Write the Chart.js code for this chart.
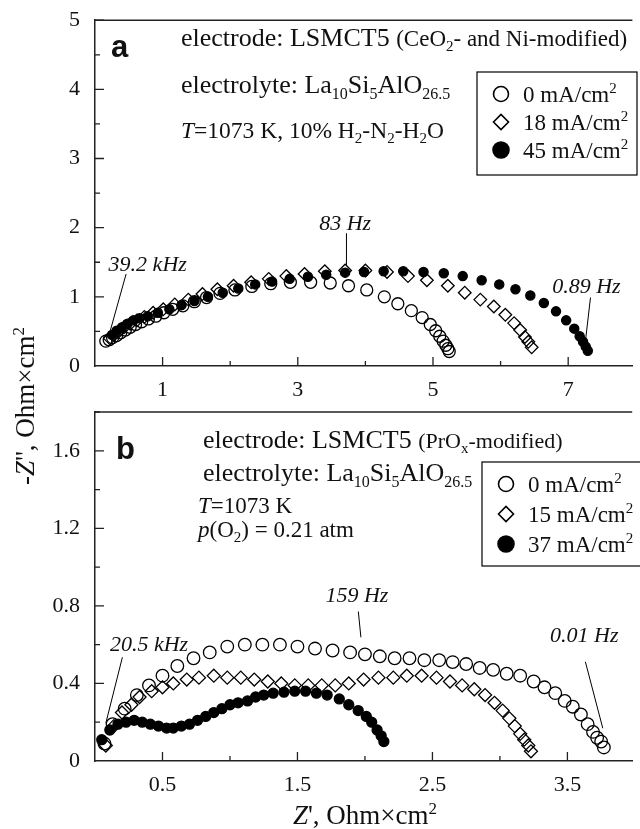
<!DOCTYPE html>
<html>
<head>
<meta charset="utf-8">
<title>Impedance spectra of LSMCT5 electrodes</title>
<script src="https://cdn.jsdelivr.net/npm/chart.js@4.4.1/dist/chart.umd.min.js"></script>
<style>
  html, body { margin: 0; padding: 0; background: #fff; }
  #wrap { position: relative; width: 640px; height: 829px; overflow: hidden; }
  #wrap canvas { position: absolute; left: 0; top: 0; }
</style>
</head>
<body>
<div id="wrap">
  <canvas id="panelA" width="640" height="829" style="width:640px;height:829px"></canvas>
  <canvas id="panelB" width="640" height="829" style="width:640px;height:829px"></canvas>
</div>
<script>
// ---------- panel a: LSMCT5 (CeO2- and Ni-modified), 10% H2-N2-H2O, 1073 K ----------
const aCurrents = ['0', '18', '45'];               // mA/cm2
const aX0  = [0.16,0.21,0.26,0.32,0.38,0.45,0.52,0.60,0.69,0.79,0.90,1.02,1.15,1.30,1.47,1.65,1.85,2.07,2.32,2.60,2.89,3.19,3.48,3.75,4.02,4.28,4.48,4.68,4.84,4.96,5.04,5.10,5.15,5.19,5.22,5.24];
const aY0  = [0.36,0.38,0.41,0.44,0.48,0.52,0.56,0.60,0.64,0.68,0.72,0.77,0.82,0.87,0.93,0.99,1.05,1.10,1.15,1.19,1.21,1.21,1.20,1.16,1.10,1.00,0.90,0.80,0.70,0.60,0.51,0.43,0.36,0.30,0.25,0.21];
const aX18 = [0.22,0.28,0.35,0.43,0.52,0.62,0.73,0.86,1.01,1.18,1.38,1.59,1.81,2.05,2.31,2.57,2.83,3.10,3.40,3.70,4.00,4.32,4.63,4.91,5.22,5.47,5.70,5.90,6.07,6.20,6.29,6.36,6.41,6.46];
const aY18 = [0.40,0.45,0.50,0.56,0.61,0.66,0.71,0.77,0.82,0.89,0.96,1.04,1.11,1.16,1.21,1.26,1.30,1.33,1.37,1.38,1.38,1.36,1.30,1.24,1.16,1.06,0.96,0.86,0.74,0.62,0.52,0.42,0.35,0.27];
const aX45 = [0.25,0.32,0.40,0.48,0.57,0.66,0.78,0.93,1.10,1.28,1.47,1.67,1.89,2.12,2.37,2.62,2.88,3.15,3.42,3.70,3.98,4.27,4.56,4.86,5.16,5.44,5.72,5.98,6.22,6.44,6.64,6.82,6.97,7.09,7.17,7.22,7.26,7.29];
const aY45 = [0.45,0.51,0.56,0.61,0.66,0.69,0.72,0.77,0.82,0.88,0.94,1.00,1.06,1.12,1.18,1.22,1.26,1.29,1.32,1.35,1.36,1.37,1.37,1.36,1.34,1.30,1.24,1.18,1.11,1.02,0.91,0.79,0.66,0.54,0.43,0.35,0.28,0.22];
const aXTickLabels = [1, 3, 5, 7];
const aYTickLabels = [0, 1, 2, 3, 4, 5];
const aFreqLabels  = ['39.2 kHz', '83 Hz', '0.89 Hz'];

// ---------- panel b: LSMCT5 (PrOx-modified), air, 1073 K ----------
const bCurrents = ['0', '15', '37'];               // mA/cm2
const bX0  = [0.07,0.13,0.22,0.31,0.40,0.50,0.61,0.73,0.85,0.98,1.11,1.24,1.37,1.50,1.63,1.76,1.89,2.00,2.11,2.22,2.33,2.44,2.55,2.65,2.75,2.85,2.95,3.05,3.15,3.25,3.33,3.41,3.48,3.54,3.60,3.65,3.69,3.72,3.75,3.77];
const bY0  = [0.09,0.19,0.27,0.34,0.39,0.44,0.49,0.53,0.56,0.59,0.60,0.60,0.60,0.59,0.58,0.57,0.56,0.55,0.54,0.53,0.53,0.52,0.52,0.51,0.50,0.48,0.47,0.45,0.44,0.41,0.38,0.35,0.31,0.28,0.24,0.19,0.15,0.12,0.10,0.07];
const bX15 = [0.08,0.14,0.20,0.27,0.33,0.42,0.50,0.58,0.68,0.77,0.88,0.98,1.08,1.18,1.28,1.38,1.48,1.58,1.68,1.78,1.88,1.99,2.10,2.21,2.31,2.42,2.53,2.63,2.72,2.81,2.89,2.96,3.02,3.07,3.11,3.15,3.18,3.21,3.23];
const bY15 = [0.08,0.18,0.25,0.29,0.33,0.36,0.38,0.40,0.42,0.43,0.44,0.43,0.43,0.42,0.41,0.40,0.39,0.39,0.39,0.39,0.40,0.42,0.43,0.43,0.44,0.44,0.43,0.41,0.39,0.37,0.34,0.30,0.26,0.22,0.18,0.14,0.11,0.08,0.05];
const bX37 = [0.05,0.11,0.17,0.23,0.29,0.35,0.41,0.47,0.53,0.58,0.64,0.70,0.76,0.82,0.88,0.94,1.00,1.06,1.13,1.19,1.25,1.32,1.40,1.48,1.56,1.64,1.72,1.81,1.88,1.95,2.01,2.05,2.09,2.12,2.14];
const bY37 = [0.11,0.16,0.19,0.20,0.21,0.20,0.19,0.18,0.17,0.17,0.18,0.19,0.21,0.23,0.25,0.27,0.29,0.30,0.31,0.33,0.34,0.35,0.355,0.36,0.36,0.35,0.34,0.32,0.29,0.26,0.23,0.20,0.16,0.13,0.10];
const bXTickLabels = [0.5, 1.5, 2.5, 3.5];
const bYTickLabels = [0, 0.4, 0.8, 1.2, 1.6];
const bFreqLabels  = ['20.5 kHz', '159 Hz', '0.01 Hz'];

// ---------- shared styling ----------
const SERIF = '"Liberation Serif", "Times New Roman", serif';
const SANS  = '"Liberation Sans", Arial, sans-serif';
const INK   = '#111';
const AXIS  = '#222';
Chart.defaults.font.family = SERIF;
Chart.defaults.color = INK;

const pts = (xs, ys) => xs.map((x, i) => ({ x, y: ys[i] }));
const near = (v, list) => list.some(t => Math.abs(t - v) < 1e-6);

function series(label, xs, ys, kind, r) {
  const filled = kind === 'filled';
  return {
    label,
    data: pts(xs, ys),
    showLine: false,
    pointStyle: kind === 'diamond' ? 'rectRot' : 'circle',
    pointRadius: r,
    pointHoverRadius: r,
    pointBorderWidth: 1.3,
    pointBorderColor: '#000',
    pointBackgroundColor: filled ? '#000' : 'rgba(0,0,0,0)',
    clip: 10,
    kind
  };
}

// rich text: list of segments {t, s, i, b, f, dy}
const seg = (t, s, o) => Object.assign({ t, s }, o || {});
const fontOf = p => (p.i ? 'italic ' : '') + (p.b ? 'bold ' : '') + p.s + 'px ' + (p.f || SERIF);
function drawRich(ctx, x, y, parts, align) {
  const widths = parts.map(p => { ctx.font = fontOf(p); return ctx.measureText(p.t).width; });
  const total = widths.reduce((a, b) => a + b, 0);
  let cx = align === 'center' ? x - total / 2 : x;
  ctx.textAlign = 'left';
  parts.forEach((p, i) => {
    ctx.font = fontOf(p);
    ctx.fillText(p.t, cx, y + (p.dy || 0));
    cx += widths[i];
  });
}

function scaleCfg(min, max, step, labels, fmt, fitProp, fitSize, pad) {
  return {
    type: 'linear',
    min, max,
    grid: { display: false },
    border: { display: true, color: AXIS, width: 1.5 },
    ticks: {
      stepSize: step,
      includeBounds: false,
      autoSkip: false,
      maxRotation: 0,
      padding: pad,
      color: INK,
      font: { family: SERIF, size: 22 },
      callback: v => near(v, labels) ? fmt(v) : ''
    },
    afterFit: s => { s[fitProp] = fitSize; }
  };
}

function decoPlugin(cfg) {
  return {
    id: 'deco_' + cfg.name,
    afterDraw(chart) {
      const ctx = chart.ctx, ca = chart.chartArea;
      const xs = chart.scales.x, ys = chart.scales.y;
      const px = v => xs.getPixelForValue(v), py = v => ys.getPixelForValue(v);
      ctx.save();

      // top frame line
      ctx.strokeStyle = AXIS;
      ctx.lineWidth = 1.5;
      ctx.beginPath();
      ctx.moveTo(ca.left - 0.75, ca.top);
      ctx.lineTo(ca.right, ca.top);
      ctx.stroke();

      // inward tick marks: long on labelled values, short between
      ctx.lineWidth = 1.3;
      ctx.beginPath();
      xs.ticks.forEach(t => {
        if (Math.abs(t.value - xs.min) < 1e-9) return;
        const p = px(t.value), len = near(t.value, cfg.xLabels) ? 9 : 5;
        ctx.moveTo(p, ca.bottom); ctx.lineTo(p, ca.bottom - len);
      });
      ys.ticks.forEach(t => {
        if (Math.abs(t.value - ys.min) < 1e-9) return;
        const p = py(t.value), len = near(t.value, cfg.yLabels) ? 9 : 5;
        ctx.moveTo(ca.left, p); ctx.lineTo(ca.left + len, p);
      });
      ctx.stroke();

      ctx.fillStyle = INK;
      ctx.textBaseline = 'alphabetic';

      // panel letter and condition text
      drawRich(ctx, cfg.letter.x, cfg.letter.y, [seg(cfg.letter.t, 31, { b: true, f: SANS })]);
      cfg.lines.forEach(l => drawRich(ctx, l.x, l.y, l.parts));

      // legend box
      const lg = cfg.legend;
      ctx.strokeStyle = '#000';
      ctx.lineWidth = 1.2;
      ctx.strokeRect(lg.left, lg.top, lg.right - lg.left, lg.bottom - lg.top);
      chart.data.datasets.forEach((ds, i) => {
        const y = lg.rows[i], x = lg.symX;
        ctx.beginPath();
        if (ds.kind === 'diamond') {
          const r = 7.5;
          ctx.moveTo(x - r, y); ctx.lineTo(x, y - r); ctx.lineTo(x + r, y); ctx.lineTo(x, y + r); ctx.closePath();
        } else {
          ctx.arc(x, y, ds.kind === 'filled' ? 8 : 7.5, 0, Math.PI * 2);
        }
        ctx.lineWidth = 1.6;
        if (ds.kind === 'filled') { ctx.fillStyle = '#000'; ctx.fill(); }
        ctx.stroke();
        ctx.fillStyle = INK;
        drawRich(ctx, lg.textX, y + 8, [seg(cfg.currents[i] + ' mA/cm', 23), seg('2', 15, { dy: -9 })]);
      });

      // frequency markers with leader lines
      ctx.strokeStyle = '#000';
      ctx.lineWidth = 1;
      cfg.notes.forEach(n => {
        ctx.beginPath();
        ctx.moveTo(px(n.from[0]), py(n.from[1]));
        ctx.lineTo(px(n.to[0]), py(n.to[1]));
        ctx.stroke();
        drawRich(ctx, px(n.at[0]), py(n.at[1]) + 8, [seg(n.t, 22, { i: true })], 'center');
      });

      if (cfg.after) cfg.after(ctx, chart);
      ctx.restore();
    }
  };
}

function makeChart(id, cfg) {
  return new Chart(document.getElementById(id), {
    type: 'scatter',
    data: { datasets: cfg.datasets },
    options: {
      responsive: false,
      animation: false,
      devicePixelRatio: 1,
      events: [],
      layout: { padding: { top: cfg.top, left: 0, right: 0, bottom: 0 } },
      plugins: { legend: { display: false }, tooltip: { enabled: false } },
      scales: {
        x: scaleCfg(cfg.xMin, cfg.xMax, cfg.xStep, cfg.xLabels, cfg.xFmt, 'height', 829 - cfg.bottom, 3),
        y: scaleCfg(cfg.yMin, cfg.yMax, cfg.yStep, cfg.yLabels, cfg.yFmt, 'width', 95, 7)
      }
    },
    plugins: [decoPlugin(cfg)]
  });
}

const oneDec = v => String(Math.round(v * 10) / 10);

// ---------- panel a ----------
makeChart('panelA', {
  name: 'a',
  top: 17, bottom: 366,
  xMin: 0, xMax: 7.95, xStep: 1, xLabels: aXTickLabels, xFmt: v => String(Math.round(v)),
  yMin: 0, yMax: 5, yStep: 0.5, yLabels: aYTickLabels, yFmt: v => String(Math.round(v)),
  currents: aCurrents,
  datasets: [
    series('0 mA/cm2', aX0, aY0, 'open', 6),
    series('18 mA/cm2', aX18, aY18, 'diamond', 6.3),
    series('45 mA/cm2', aX45, aY45, 'filled', 4.6)
  ],
  letter: { t: 'a', x: 111, y: 57 },
  lines: [
    { x: 181, y: 46, parts: [seg('electrode: LSMCT5 ', 26), seg('(CeO', 23), seg('2', 15, { dy: 5 }), seg('- and Ni-modified)', 23)] },
    { x: 181, y: 93, parts: [seg('electrolyte: La', 26), seg('10', 16, { dy: 6 }), seg('Si', 26), seg('5', 16, { dy: 6 }), seg('AlO', 26), seg('26.5', 16, { dy: 6 })] },
    { x: 181, y: 138, parts: [seg('T', 23.5, { i: true }), seg('=1073 K, 10% H', 23.5), seg('2', 15, { dy: 5 }), seg('-N', 23.5), seg('2', 15, { dy: 5 }), seg('-H', 23.5), seg('2', 15, { dy: 5 }), seg('O', 23.5)] }
  ],
  legend: { left: 477, top: 72, right: 637, bottom: 175, rows: [94, 122, 150], symX: 501, textX: 523 },
  notes: [
    { t: aFreqLabels[0], at: [0.78, 1.49], from: [0.20, 0.42], to: [0.46, 1.33] },
    { t: aFreqLabels[1], at: [3.70, 2.08], from: [3.72, 1.45], to: [3.72, 1.92] },
    { t: aFreqLabels[2], at: [7.27, 1.17], from: [7.26, 0.40], to: [7.33, 0.99] }
  ]
});

// ---------- panel b (also carries the shared axis titles) ----------
makeChart('panelB', {
  name: 'b',
  top: 412, bottom: 761,
  xMin: 0, xMax: 3.98, xStep: 0.5, xLabels: bXTickLabels, xFmt: oneDec,
  yMin: 0, yMax: 1.8, yStep: 0.2, yLabels: bYTickLabels, yFmt: oneDec,
  currents: bCurrents,
  datasets: [
    series('0 mA/cm2', bX0, bY0, 'open', 6.3),
    series('15 mA/cm2', bX15, bY15, 'diamond', 6.5),
    series('37 mA/cm2', bX37, bY37, 'filled', 5)
  ],
  letter: { t: 'b', x: 116, y: 459 },
  lines: [
    { x: 203, y: 448, parts: [seg('electrode: LSMCT5 ', 26), seg('(PrO', 22), seg('x', 15, { dy: 5 }), seg('-modified)', 22)] },
    { x: 203, y: 481, parts: [seg('electrolyte: La', 26), seg('10', 16, { dy: 6 }), seg('Si', 26), seg('5', 16, { dy: 6 }), seg('AlO', 26), seg('26.5', 16, { dy: 6 })] },
    { x: 198, y: 513, parts: [seg('T', 23, { i: true }), seg('=1073 K', 23)] },
    { x: 198, y: 537, parts: [seg('p', 23, { i: true }), seg('(O', 23), seg('2', 15, { dy: 5 }), seg(') = 0.21 atm', 23)] }
  ],
  legend: { left: 482, top: 462, right: 641, bottom: 566, rows: [484, 514, 544], symX: 506, textX: 528 },
  notes: [
    { t: bFreqLabels[0], at: [0.40, 0.61], from: [0.08, 0.195], to: [0.203, 0.535] },
    { t: bFreqLabels[1], at: [1.94, 0.86], from: [1.970, 0.638], to: [1.951, 0.771] },
    { t: bFreqLabels[2], at: [3.625, 0.655], from: [3.762, 0.169], to: [3.633, 0.512] }
  ],
  after(ctx) {
    ctx.fillStyle = INK;
    // x title
    drawRich(ctx, 365, 824, [seg('Z', 27, { i: true }), seg("', Ohm\u00d7cm", 27), seg('2', 17, { dy: -10 })], 'center');
    // y title, rotated
    ctx.save();
    ctx.translate(34, 406);
    ctx.rotate(-Math.PI / 2);
    drawRich(ctx, 0, 0, [seg('-', 27), seg('Z', 27, { i: true }), seg("''", 27), seg(', Ohm\u00d7cm', 27), seg('2', 17, { dy: -10 })], 'center');
    ctx.restore();
  }
});
</script>
</body>
</html>
